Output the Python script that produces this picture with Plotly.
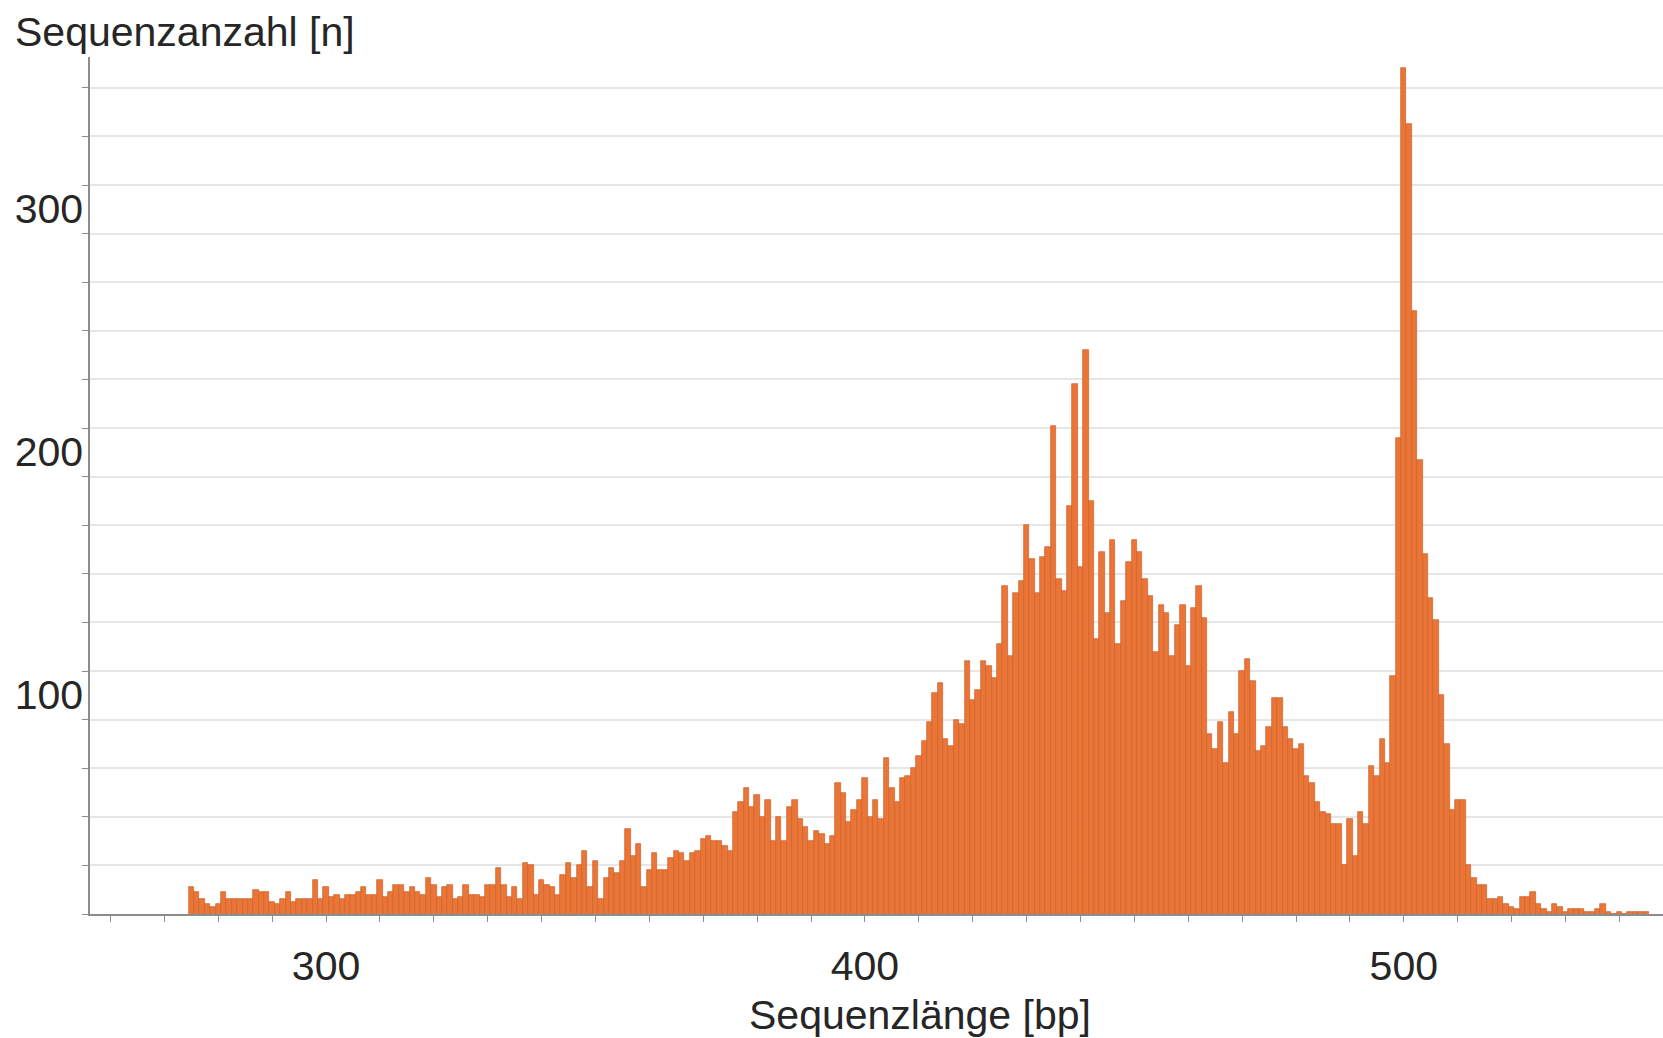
import plotly.graph_objects as go

# Sequence lengths (bp), one bar per length
lengths = list(range(275, 546))

counts = [
    11, 9, 6, 4, 3, 4, 9, 6, 6, 6,          # 275-284
    6, 6, 10, 9, 9, 5, 4, 6, 9, 5,          # 285-294
    6, 6, 6, 14, 6, 11, 7, 8, 6, 8,         # 295-304
    8, 9, 11, 8, 8, 14, 7, 9, 12, 12,       # 305-314
    9, 11, 9, 8, 15, 12, 7, 11, 12, 6,      # 315-324
    7, 12, 8, 8, 7, 12, 12, 19, 12, 7,      # 325-334
    11, 6, 21, 20, 8, 14, 12, 11, 8, 16,    # 335-344
    21, 15, 20, 26, 11, 22, 6, 15, 19, 17,  # 345-354
    22, 35, 24, 29, 11, 18, 25, 18, 18, 23, # 355-364
    26, 25, 22, 25, 26, 31, 32, 30, 30, 28, # 365-374
    26, 42, 46, 52, 44, 49, 40, 47, 30, 40, # 375-384
    30, 44, 47, 39, 36, 30, 34, 33, 29, 32, # 385-394
    54, 50, 38, 43, 47, 56, 40, 47, 39, 64, # 395-404
    52, 46, 56, 57, 60, 65, 71, 79, 91, 95, # 405-414
    72, 69, 80, 78, 104, 88, 92, 104, 102, 97,     # 415-424
    111, 135, 106, 132, 137, 160, 146, 132, 147, 151,  # 425-434
    201, 138, 133, 168, 218, 143, 232, 170, 113, 149,  # 435-444
    124, 154, 111, 129, 145, 154, 149, 138, 131, 108,  # 445-454
    127, 124, 106, 119, 127, 102, 126, 135, 122, 74,   # 455-464
    68, 79, 62, 83, 74, 100, 105, 96, 67, 69,          # 465-474
    77, 89, 89, 77, 72, 68, 70, 57, 54, 46,            # 475-484
    42, 41, 37, 37, 20, 39, 24, 42, 37, 61,            # 485-494
    57, 72, 62, 98, 196, 348, 325, 248, 187, 148,      # 495-504
    130, 121, 90, 70, 43, 47, 47, 20, 15, 12,          # 505-514
    12, 6, 6, 7, 4, 3, 2, 7, 7, 9,                     # 515-524
    4, 2, 1, 4, 3, 1, 2, 2, 2, 1,                      # 525-534
    1, 2, 4, 1, 0, 1, 0, 1, 1, 1,                      # 535-544
    1,                                                 # 545
]

x_tick_values = [300, 400, 500]
x_tick_labels = ["300", "400", "500"]
y_tick_values = [100, 200, 300]
y_tick_labels = ["100", "200", "300"]

x_title = "Sequenzlänge [bp]"
y_title = "Sequenzanzahl [n]"

FONT = "Liberation Sans, Arial, sans-serif"
TXT = "#262626"
AX = "#8c8c8c"
GRID = "#e6e6e6"
FS = 41

fig = go.Figure()
fig.add_trace(go.Bar(
    x=lengths,
    y=counts,
    marker=dict(color="#EB7536", line=dict(color="#C8622C", width=0.7)),
    showlegend=False,
    hoverinfo="x+y",
))

fig.update_layout(
    width=1663,
    height=1038,
    paper_bgcolor="white",
    plot_bgcolor="white",
    margin=dict(l=90, r=0, t=57, b=124),
    bargap=0,
    font=dict(family=FONT, size=FS, color=TXT),
    xaxis=dict(
        range=[256.2, 548.1],
        tickmode="array",
        tickvals=x_tick_values,
        ticktext=x_tick_labels,
        ticks="outside",
        ticklen=6,
        tickcolor=AX,
        tickwidth=1,
        showgrid=False,
        showline=True,
        linecolor=AX,
        linewidth=1.5,
        zeroline=False,
        ticklabelstandoff=9,
        tickfont=dict(family=FONT, size=FS, color=TXT),
        minor=dict(tickmode="linear", tick0=0, dtick=10, ticks="outside",
                   ticklen=6, tickcolor=AX, showgrid=False),
    ),
    yaxis=dict(
        range=[0, 352.7],
        tickmode="array",
        tickvals=y_tick_values,
        ticktext=y_tick_labels,
        ticks="outside",
        ticklen=6,
        tickcolor=AX,
        tickwidth=1,
        showgrid=True,
        gridcolor=GRID,
        gridwidth=1.5,
        showline=True,
        linecolor=AX,
        linewidth=1.5,
        zeroline=False,
        ticklabelstandoff=-9,
        ticklabelshift=24,
        tickfont=dict(family=FONT, size=FS, color=TXT),
        minor=dict(tickmode="linear", tick0=0, dtick=20, ticks="outside",
                   ticklen=6, tickcolor=AX, showgrid=True,
                   gridcolor=GRID, gridwidth=1.5),
    ),
    annotations=[
        dict(text=y_title, xref="paper", yref="paper", x=-90 / 1573, y=1.0,
             xanchor="left", yanchor="bottom", yshift=0, xshift=13,
             showarrow=False, font=dict(family=FONT, size=FS, color=TXT)),
        dict(text=x_title, xref="paper", yref="paper", x=(920 - 90) / 1573, y=0,
             xanchor="center", yanchor="top", yshift=-76,
             showarrow=False, font=dict(family=FONT, size=FS, color=TXT)),
    ],
)

fig.write_html("out.html", config={"displayModeBar": False},
               post_script="document.body.style.margin='0';")
